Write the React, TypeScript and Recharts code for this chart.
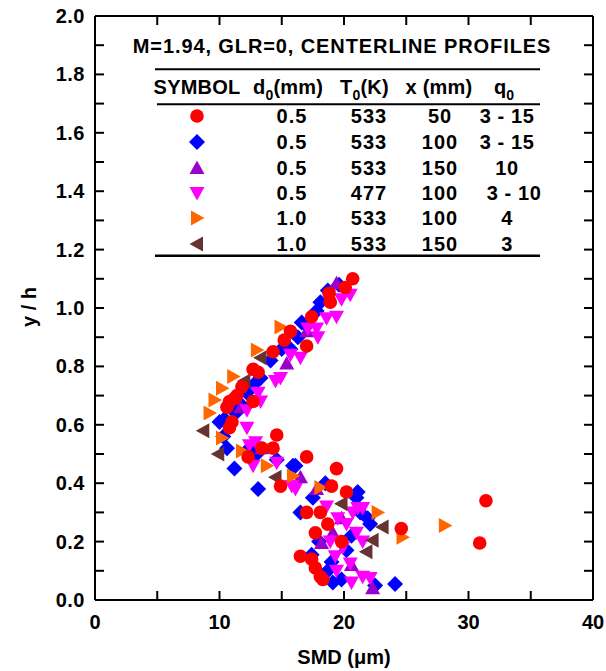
import React from 'react';
import { ScatterChart, Scatter, XAxis, YAxis, Customized } from 'recharts';

const FONT = '"Liberation Sans", Arial, Helvetica, sans-serif';

// ---- axis ticks ----
const xTicks = [0, 5, 10, 15, 20, 25, 30, 35, 40];
const yTicks = [0, 0.1, 0.2, 0.3, 0.4, 0.5, 0.6, 0.7, 0.8, 0.9, 1.0, 1.1, 1.2, 1.3, 1.4, 1.5, 1.6, 1.7, 1.8, 1.9, 2.0];

// ---- series (SMD in um, y/h) ----
const red50 = [
  { x: 20.7, y: 1.10 }, { x: 20.1, y: 1.07 }, { x: 18.8, y: 1.05 }, { x: 18.9, y: 1.02 }, { x: 17.4, y: 0.97 },
  { x: 15.7, y: 0.92 }, { x: 15.2, y: 0.89 }, { x: 17.0, y: 0.87 }, { x: 14.3, y: 0.85 }, { x: 12.7, y: 0.79 },
  { x: 13.1, y: 0.78 }, { x: 11.8, y: 0.73 }, { x: 11.4, y: 0.70 }, { x: 10.8, y: 0.68 }, { x: 11.2, y: 0.69 },
  { x: 10.6, y: 0.66 }, { x: 12.7, y: 0.68 }, { x: 11.0, y: 0.61 }, { x: 10.8, y: 0.59 }, { x: 14.6, y: 0.565 },
  { x: 14.3, y: 0.52 }, { x: 13.4, y: 0.52 }, { x: 12.3, y: 0.49 }, { x: 17.0, y: 0.49 }, { x: 19.4, y: 0.45 },
  { x: 14.9, y: 0.39 }, { x: 19.0, y: 0.39 }, { x: 20.2, y: 0.37 }, { x: 17.0, y: 0.30 }, { x: 18.1, y: 0.30 },
  { x: 18.7, y: 0.26 }, { x: 17.7, y: 0.23 }, { x: 19.8, y: 0.20 }, { x: 16.5, y: 0.15 }, { x: 17.4, y: 0.14 },
  { x: 17.7, y: 0.11 }, { x: 18.1, y: 0.08 }, { x: 18.3, y: 0.07 }, { x: 24.6, y: 0.245 }, { x: 31.4, y: 0.34 },
  { x: 30.9, y: 0.195 },
];

const blue100 = [
  { x: 19.6, y: 1.08 }, { x: 18.7, y: 1.06 }, { x: 18.1, y: 1.02 }, { x: 17.8, y: 0.99 }, { x: 17.0, y: 0.94 },
  { x: 16.6, y: 0.95 }, { x: 16.3, y: 0.90 }, { x: 15.7, y: 0.86 }, { x: 15.0, y: 0.86 }, { x: 14.1, y: 0.82 },
  { x: 13.3, y: 0.76 }, { x: 12.8, y: 0.74 }, { x: 12.2, y: 0.71 }, { x: 11.7, y: 0.67 }, { x: 11.3, y: 0.64 },
  { x: 10.4, y: 0.62 }, { x: 10.0, y: 0.61 }, { x: 10.3, y: 0.56 }, { x: 10.6, y: 0.52 }, { x: 11.2, y: 0.45 },
  { x: 13.0, y: 0.50 }, { x: 12.4, y: 0.52 }, { x: 13.1, y: 0.38 }, { x: 14.6, y: 0.48 }, { x: 15.9, y: 0.46 },
  { x: 16.1, y: 0.46 }, { x: 18.5, y: 0.40 }, { x: 17.5, y: 0.35 }, { x: 16.5, y: 0.30 }, { x: 21.1, y: 0.37 },
  { x: 21.0, y: 0.35 }, { x: 21.3, y: 0.30 }, { x: 21.9, y: 0.28 }, { x: 22.1, y: 0.26 }, { x: 20.6, y: 0.22 },
  { x: 18.0, y: 0.20 }, { x: 20.2, y: 0.17 }, { x: 17.4, y: 0.155 }, { x: 19.0, y: 0.13 }, { x: 18.7, y: 0.10 },
  { x: 19.8, y: 0.07 }, { x: 19.1, y: 0.06 }, { x: 22.5, y: 0.05 }, { x: 24.1, y: 0.055 },
];

const purple150 = [
  { x: 19.4, y: 1.085 }, { x: 17.0, y: 0.92 }, { x: 15.4, y: 0.81 }, { x: 11.7, y: 0.66 }, { x: 13.4, y: 0.52 },
  { x: 16.5, y: 0.42 }, { x: 17.8, y: 0.38 }, { x: 19.8, y: 0.28 }, { x: 19.1, y: 0.23 }, { x: 18.2, y: 0.195 },
  { x: 20.6, y: 0.12 }, { x: 22.3, y: 0.04 },
];

const magenta477 = [
  { x: 20.5, y: 1.045 }, { x: 19.8, y: 1.03 }, { x: 19.4, y: 0.97 }, { x: 18.6, y: 0.965 }, { x: 17.8, y: 0.93 },
  { x: 17.1, y: 0.93 }, { x: 17.9, y: 0.90 }, { x: 16.5, y: 0.83 }, { x: 15.7, y: 0.84 }, { x: 14.9, y: 0.76 },
  { x: 14.5, y: 0.75 }, { x: 13.1, y: 0.71 }, { x: 13.3, y: 0.68 }, { x: 12.2, y: 0.65 }, { x: 12.2, y: 0.59 },
  { x: 12.9, y: 0.54 }, { x: 12.4, y: 0.53 }, { x: 12.7, y: 0.46 }, { x: 14.6, y: 0.47 }, { x: 15.8, y: 0.39 },
  { x: 16.1, y: 0.38 }, { x: 18.6, y: 0.32 }, { x: 19.5, y: 0.28 }, { x: 20.7, y: 0.30 }, { x: 21.1, y: 0.315 },
  { x: 21.5, y: 0.315 }, { x: 20.2, y: 0.26 }, { x: 21.0, y: 0.23 }, { x: 18.9, y: 0.20 }, { x: 21.5, y: 0.20 },
  { x: 19.9, y: 0.18 }, { x: 19.3, y: 0.15 }, { x: 20.5, y: 0.125 }, { x: 19.4, y: 0.10 }, { x: 21.5, y: 0.08 },
  { x: 22.1, y: 0.075 }, { x: 20.6, y: 0.06 },
];

const orange100 = [
  { x: 14.9, y: 0.935 }, { x: 13.0, y: 0.856 }, { x: 11.1, y: 0.765 }, { x: 10.2, y: 0.725 }, { x: 9.6, y: 0.685 },
  { x: 9.2, y: 0.64 }, { x: 10.2, y: 0.555 }, { x: 11.8, y: 0.51 }, { x: 13.8, y: 0.46 }, { x: 15.9, y: 0.425 },
  { x: 18.1, y: 0.385 }, { x: 22.7, y: 0.30 }, { x: 24.7, y: 0.215 }, { x: 28.1, y: 0.255 },
];

const brown150 = [
  { x: 13.3, y: 0.83 }, { x: 12.0, y: 0.75 }, { x: 8.7, y: 0.58 }, { x: 9.9, y: 0.50 }, { x: 14.5, y: 0.42 },
  { x: 19.8, y: 0.33 }, { x: 23.1, y: 0.25 }, { x: 22.3, y: 0.205 }, { x: 21.8, y: 0.165 },
];

// ---- legend table ----
const legendSymbols = ['circle', 'diamond', 'up', 'down', 'right', 'left'];
const legendColors = ['#ff0000', '#0000ff', '#9900cc', '#ff00ff', '#ff6600', '#663333'];
const legendD0 = ['0.5', '0.5', '0.5', '0.5', '1.0', '1.0'];
const legendT0 = ['533', '533', '533', '477', '533', '533'];
const legendX = ['50', '100', '150', '100', '100', '150'];
const legendQ0 = ['3 - 15', '3 - 15', '10', '3 - 10', '4', '3'];

const drawMarker = (kind: string, cx: number, cy: number, color: string, key?: any) => {
  switch (kind) {
    case 'circle':
      return <circle key={key} cx={cx} cy={cy} r={6.8} fill={color} />;
    case 'diamond':
      return <polygon key={key} points={`${cx},${cy - 8} ${cx + 8},${cy} ${cx},${cy + 8} ${cx - 8},${cy}`} fill={color} />;
    case 'up':
      return <polygon key={key} points={`${cx},${cy - 7.5} ${cx + 7.5},${cy + 6} ${cx - 7.5},${cy + 6}`} fill={color} />;
    case 'down':
      return <polygon key={key} points={`${cx - 7.5},${cy - 6} ${cx + 7.5},${cy - 6} ${cx},${cy + 7.5}`} fill={color} />;
    case 'right':
      return <polygon key={key} points={`${cx - 6},${cy - 7.5} ${cx + 7.5},${cy} ${cx - 6},${cy + 7.5}`} fill={color} />;
    default:
      return <polygon key={key} points={`${cx + 6},${cy - 7.5} ${cx - 7.5},${cy} ${cx + 6},${cy + 7.5}`} fill={color} />;
  }
};

const shapeFor = (kind: string, color: string) => (props: any) => {
  const { cx, cy } = props;
  if (cx == null || cy == null) return <g />;
  return drawMarker(kind, cx, cy, color);
};

const labelStyle = { fontFamily: FONT, fontWeight: 700 as const, fontSize: 20, fill: '#000' };

const BottomTick = (props: any) => {
  const { x, y, payload } = props;
  const v = payload.value;
  return (
    <g>
      <line x1={x} y1={y} x2={x} y2={y - 9} stroke="#000" strokeWidth={2} />
      {v % 10 === 0 && (
        <text x={x} y={y + 29} textAnchor="middle" style={labelStyle}>{v}</text>
      )}
    </g>
  );
};

const TopTick = (props: any) => {
  const { x, y } = props;
  return <line x1={x} y1={y} x2={x} y2={y + 9} stroke="#000" strokeWidth={2} />;
};

const LeftTick = (props: any) => {
  const { x, y, payload } = props;
  const v = payload.value;
  const major = Math.round(v * 10) % 2 === 0;
  return (
    <g>
      <line x1={x} y1={y} x2={x + 9} y2={y} stroke="#000" strokeWidth={2} />
      {major && (
        <text x={x - 10} y={y + 7} textAnchor="end" style={{ ...labelStyle, letterSpacing: 0.5 }}>{v.toFixed(1)}</text>
      )}
    </g>
  );
};

const RightTick = (props: any) => {
  const { x, y } = props;
  return <line x1={x} y1={y} x2={x - 9} y2={y} stroke="#000" strokeWidth={2} />;
};

const rowBase = [123, 149, 175, 200, 225, 251];

const Overlay = () => (
  <g fontFamily={FONT} fontWeight="bold" fill="#000">
    <text x={342} y={53} textAnchor="middle" fontSize={20} letterSpacing={0.9}>M=1.94, GLR=0, CENTERLINE PROFILES</text>
    <line x1={155} x2={540} y1={69.3} y2={69.3} stroke="#000" strokeWidth={2} />
    <text x={197} y={94} textAnchor="middle" fontSize={20} letterSpacing={0.2}>SYMBOL</text>
    <text x={253} y={94} fontSize={20} letterSpacing={0.2}>d<tspan fontSize={14} dy={6}>0</tspan><tspan dy={-6}>(mm)</tspan></text>
    <text x={340} y={94} fontSize={20} letterSpacing={0.2}>T<tspan fontSize={14} dy={6}>0</tspan><tspan dy={-6}>(K)</tspan></text>
    <text x={439} y={94} textAnchor="middle" fontSize={20} letterSpacing={0.2}>x (mm)</text>
    <text x={494} y={94} fontSize={20}>q<tspan fontSize={14} dy={6}>0</tspan></text>
    <line x1={157} x2={540} y1={104.3} y2={104.3} stroke="#000" strokeWidth={2} />
    {legendSymbols.map((s, i) => (
      <g key={i}>
        {drawMarker(s, 197, rowBase[i] - 7, legendColors[i])}
        <text x={292} y={rowBase[i]} textAnchor="middle" fontSize={20} letterSpacing={1}>{legendD0[i]}</text>
        <text x={369} y={rowBase[i]} textAnchor="middle" fontSize={20} letterSpacing={1}>{legendT0[i]}</text>
        <text x={440} y={rowBase[i]} textAnchor="middle" fontSize={20} letterSpacing={1}>{legendX[i]}</text>
        <text x={legendQ0[i] === '3 - 10' ? 514 : 507} y={rowBase[i]} textAnchor="middle" fontSize={20} letterSpacing={0.6}>{legendQ0[i]}</text>
      </g>
    ))}
    <line x1={155} x2={540} y1={255.7} y2={255.7} stroke="#000" strokeWidth={2.5} />
    <text x={344} y={664} textAnchor="middle" fontSize={20}>SMD (μm)</text>
    <text x={36} y={307} textAnchor="middle" fontSize={20} transform="rotate(-90 36 307)">y / h</text>
  </g>
);

export default function App() {
  return (
    <div style={{ position: 'absolute', left: 0, top: 0, width: 606, height: 671 }}>
      <ScatterChart width={606} height={671} margin={{ top: 15, right: 12, bottom: 0, left: 0 }}>
        <XAxis
          xAxisId="b" dataKey="x" type="number" domain={[0, 40]} ticks={xTicks} interval={0}
          orientation="bottom" height={71} tickLine={false} tickSize={0} tickMargin={0}
          axisLine={{ stroke: '#000', strokeWidth: 2 }} tick={<BottomTick />} allowDataOverflow
        />
        <XAxis
          xAxisId="t" dataKey="x" type="number" domain={[0, 40]} ticks={xTicks} interval={0}
          orientation="top" height={1} tickLine={false} tickSize={0} tickMargin={0}
          axisLine={{ stroke: '#000', strokeWidth: 2 }} tick={<TopTick />} allowDataOverflow
        />
        <YAxis
          yAxisId="l" dataKey="y" type="number" domain={[0, 2]} ticks={yTicks} interval={0}
          orientation="left" width={95} tickLine={false} tickSize={0} tickMargin={0}
          axisLine={{ stroke: '#000', strokeWidth: 2 }} tick={<LeftTick />} allowDataOverflow
        />
        <YAxis
          yAxisId="r" dataKey="y" type="number" domain={[0, 2]} ticks={yTicks} interval={0}
          orientation="right" width={1} tickLine={false} tickSize={0} tickMargin={0}
          axisLine={{ stroke: '#000', strokeWidth: 2 }} tick={<RightTick />} allowDataOverflow
        />
        <Scatter xAxisId="t" yAxisId="r" data={blue100} shape={() => <g />} isAnimationActive={false} legendType="none" />
        <Scatter xAxisId="b" yAxisId="l" data={blue100} shape={shapeFor('diamond', '#0000ff')} isAnimationActive={false} />
        <Scatter xAxisId="b" yAxisId="l" data={purple150} shape={shapeFor('up', '#9900cc')} isAnimationActive={false} />
        <Scatter xAxisId="b" yAxisId="l" data={magenta477} shape={shapeFor('down', '#ff00ff')} isAnimationActive={false} />
        <Scatter xAxisId="b" yAxisId="l" data={brown150} shape={shapeFor('left', '#663333')} isAnimationActive={false} />
        <Scatter xAxisId="b" yAxisId="l" data={orange100} shape={shapeFor('right', '#ff6600')} isAnimationActive={false} />
        <Scatter xAxisId="b" yAxisId="l" data={red50} shape={shapeFor('circle', '#ff0000')} isAnimationActive={false} />
        <Customized component={Overlay} />
      </ScatterChart>
    </div>
  );
}
